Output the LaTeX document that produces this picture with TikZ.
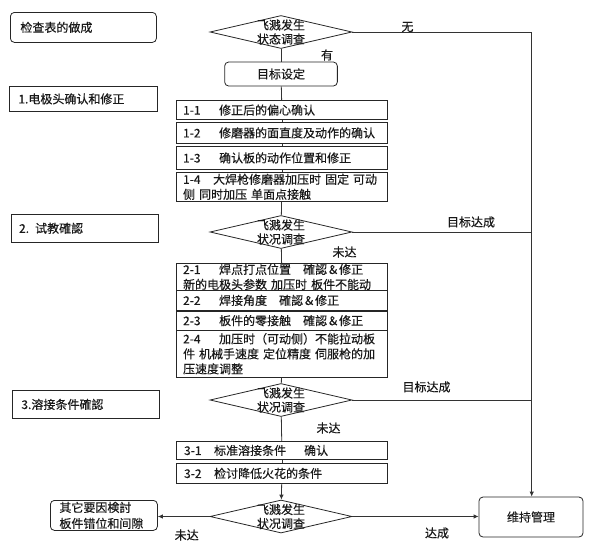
\documentclass[tikz,border=0pt]{standalone}
\usepackage{fontspec}
\setmainfont{Noto Sans CJK SC}[FakeBold=0.3]
\usetikzlibrary{shapes.geometric,arrows.meta}
\tikzset{
  ln/.style={draw=black!80, line width=0.8pt},
  arr/.style={ln, -{Latex[length=5pt,width=4.5pt]}},
  sbox/.style={draw=black!85, line width=0.8pt, fill=white, inner ysep=0pt, align=left, anchor=north west,
     font=\fontsize{12}{15}\selectfont, text=black!90},
  rbox/.style={sbox, rounded corners=4pt},
  dia/.style={draw=black!85, line width=0.8pt, fill=white, shape=diamond, inner sep=0pt,
     minimum width=142pt, minimum height=33pt},
  dtext/.style={align=center, inner sep=0pt, font=\fontsize{12}{14}\selectfont, text=black!90},
  lab/.style={inner sep=0pt, font=\fontsize{12}{14}\selectfont, text=black!90},
}
\begin{document}
\begin{tikzpicture}[x=1pt,y=-1pt]
\useasboundingbox (0,0) rectangle (590,558);

% left section titles
\node[rbox, inner xsep=10pt, text width=126pt, minimum height=30pt] (check) at (10,12) {检查表的做成};
\node[sbox, inner xsep=9pt, text width=130pt, minimum height=25pt] (s1) at (9,86) {1.电极头确认和修正};
\node[sbox, inner xsep=8pt, text width=131.3pt, minimum height=27.7pt] (s2) at (10.7,214) {2. 试教確認};
\node[sbox, inner xsep=9pt, text width=129pt, minimum height=28pt] (s3) at (12,390) {3.溶接条件確認};

% diamonds
\node[dia] (D1) at (281,32) {};
\node[dtext] (D1t) at (D1) {飞溅发生\\状态调查};
\node[dia] (D2) at (281,232) {};
\node[dtext] (D2t) at (D2) {飞溅发生\\状况调查};
\node[dia] (D3) at (281,400) {};
\node[dtext] (D3t) at (D3) {飞溅发生\\状况调查};
\node[dia] (D4) at (281,516.5) {};
\node[dtext] (D4t) at (D4) {飞溅发生\\状况调查};

% target box
\node[rbox, anchor=center, align=center, inner xsep=0pt, text width=112.7pt, minimum height=24pt] (mb) at (281,74) {目标设定};

% step boxes
\tikzset{step box/.style={sbox, inner xsep=7pt, text width=197.6pt}}
\node[step box, minimum height=19.3pt] (b11) at (175.7,100) {\makebox[36pt][l]{1-1}修正后的偏心确认};
\node[step box, minimum height=21.6pt] (b12) at (175.7,121.7) {\makebox[36pt][l]{1-2}修磨器的面直度及动作的确认};
\node[step box, minimum height=23pt] (b13) at (175.7,146) {\makebox[36pt][l]{1-3}确认板的动作位置和修正};
\node[step box, minimum height=29.3pt] (b14) at (175.7,171.7) {\mbox{\makebox[30pt][l]{1-4}大焊枪修磨器加压时 固定 可动}\\\mbox{侧 同时加压 单面点接触}};

\node[step box, minimum height=27pt] (b21) at (175.7,263) {\mbox{\makebox[36pt][l]{2-1}焊点打点位置\quad 確認＆修正}\\\mbox{新的电极头参数 加压时 板件不能动}};
\node[step box, minimum height=20pt] (b22) at (175.7,290) {\makebox[36pt][l]{2-2}焊接角度\quad 確認＆修正};
\node[step box, minimum height=19.5pt] (b23) at (175.7,310.5) {\makebox[36pt][l]{2-3}板件的零接触\quad 確認＆修正};
\node[step box, minimum height=46.7pt] (b24) at (175.7,330) {\mbox{\makebox[36pt][l]{2-4}加压时（可动侧）不能拉动板}\\\mbox{件 机械手速度 定位精度 伺服枪的加}\\\mbox{压速度调整}};

\node[step box, minimum height=18pt, inner xsep=8pt, text width=195.6pt] (b31) at (175.7,441) {\makebox[30pt][l]{3-1}标准溶接条件\hspace{18pt}确认};
\node[step box, minimum height=20pt, inner xsep=8pt, text width=195.6pt] (b32) at (175.7,463) {\makebox[30pt][l]{3-2}检讨降低火花的条件};

% end boxes
\node[rbox, inner xsep=9pt, text width=89pt, minimum height=30pt, font=\fontsize{12}{16}\selectfont] (other) at (50,500) {其它要因検討\\板件错位和间隙};
\node[rbox, anchor=center, align=center, inner xsep=0pt, text width=104pt, minimum height=40pt] (keep) at (531,517) {维持管理};

% right-hand coordinates
\coordinate (r1) at (531.7,32);
\coordinate (r2) at (531.7,232);
\coordinate (r3) at (531.7,400);

% main flow connectors
\draw[ln] (D1) -- (mb);
\draw[ln] (mb) -- (b11);
\draw[ln] (b11) -- (b12);
\draw[ln] (b12) -- (b13);
\draw[ln] (b13) -- (b14);
\draw[ln] (b14) -- (D2);
\draw[ln] (D2) -- (b21);
\draw[ln] (b24) -- (D3);
\draw[ln] (D3) -- (b31);
\draw[ln] (b31) -- (b32);
\draw[arr] (b32) -- (D4);

% right side
\draw[arr] (D1.east) -- (r1) -- (keep.north -| r1);
\draw[ln] (D2.east) -- (r2);
\draw[ln] (D3.east) -- (r3);
\draw[arr] (D4.east) -- (keep.west |- D4.east);
\draw[arr] (D4.west) -- (other.east |- D4.west);

% labels
\node[lab] (lwu) at (407.5,27) {无};
\node[lab] (lyou) at (327,55) {有};
\node[lab] (lok1) at (471,222) {目标达成};
\node[lab] (lno1) at (344.5,252) {未达};
\node[lab] (lok2) at (426.5,387) {目标达成};
\node[lab] (lno2) at (328.5,428) {未达};
\node[lab] (lno3) at (186.7,535) {未达};
\node[lab] (lok3) at (437,533) {达成};
\end{tikzpicture}
\end{document}
